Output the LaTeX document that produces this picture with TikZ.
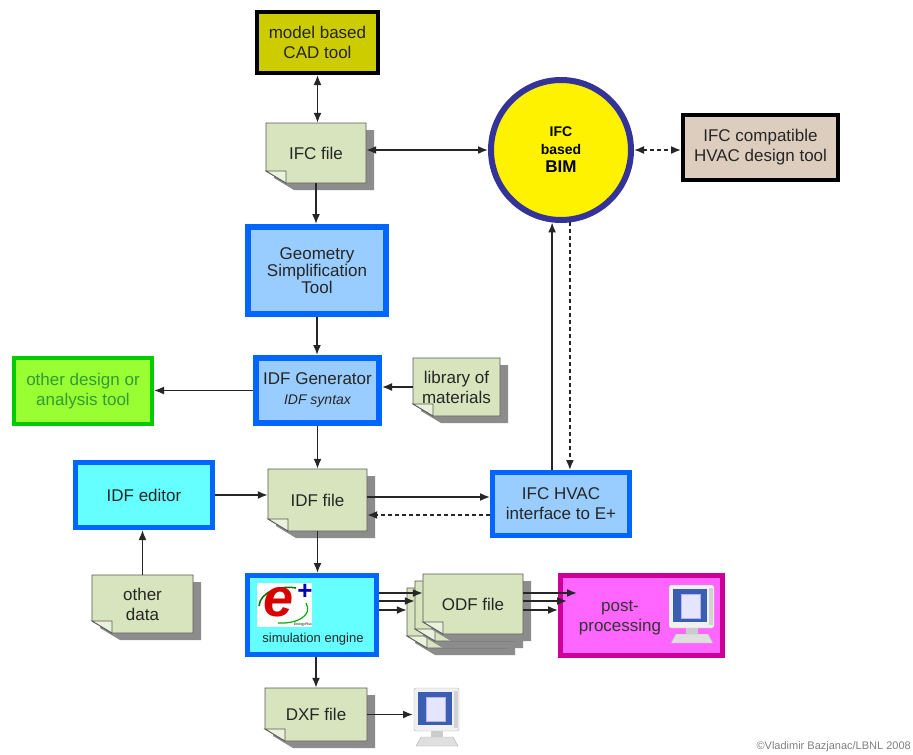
\documentclass[tikz,border=0pt]{standalone}
\usepackage{fontspec}
\setmainfont{Liberation Sans}
\usetikzlibrary{arrows.meta}

\definecolor{cadyellow}{HTML}{CCCC00}
\definecolor{notegreen}{HTML}{D7E4BD}
\definecolor{notefold}{HTML}{EAF1DD}
\definecolor{shadowgray}{HTML}{8C8C8C}
\definecolor{bimblue}{HTML}{333399}
\definecolor{hvactan}{HTML}{DDCDBF}
\definecolor{lightblue}{HTML}{99CCFF}
\definecolor{brightblue}{HTML}{0066FF}
\definecolor{limegreen}{HTML}{99FF33}
\definecolor{darkgreen}{HTML}{00CC00}
\definecolor{textgreen}{HTML}{339933}
\definecolor{cyanbox}{HTML}{66FFFF}
\definecolor{magentabox}{HTML}{FF66FF}
\definecolor{darkmagenta}{HTML}{CC0099}
\definecolor{screenblue}{HTML}{3A5FB0}

\begin{document}
\begin{tikzpicture}[
    x=1pt, y=-1pt,
    >={Latex[length=10pt,width=8pt]},
    % Estilo base de las cajas de herramientas
    ToolBox/.style={
        draw, rectangle, align=center, text=black!85,
        font=\fontsize{17}{20}\selectfont
    },
    % Cajas azules y cian
    BlueBox/.style={ToolBox, fill=lightblue, draw=brightblue, line width=6pt},
    CyanBox/.style={ToolBox, fill=cyanbox, draw=brightblue, line width=5pt},
    % Texto de las hojas (archivos)
    NoteText/.style={
        rectangle, inner sep=0pt, align=center, text=black!85,
        font=\fontsize{17}{20}\selectfont
    },
    % Conectores
    Link/.style={line width=1.6pt, draw=black!85},
    DashLink/.style={Link, dash pattern=on 4pt off 3pt}
]

    % Fondo y margenes
    \path[use as bounding box, fill=white] (0,0) rectangle (913,755);

    % --- 1. HERRAMIENTAS (CAJAS) ---
    \node[ToolBox, fill=cadyellow, line width=4pt, minimum width=121pt, minimum height=61pt]
        (CadTool) at (317.5,42.5) {model based\\CAD tool};
    \node[ToolBox, fill=hvactan, line width=4pt, minimum width=155pt, minimum height=65pt]
        (HvacTool) at (760.5,147.5) {IFC compatible\\HVAC design tool};
    \node[circle, fill=yellow, draw=bimblue, line width=6pt, minimum size=140pt,
          align=center, font=\bfseries\fontsize{14}{18}\selectfont]
        (Bim) at (561,150) {IFC\\based\\{\fontsize{17}{18}\selectfont BIM}};
    \node[BlueBox, minimum width=138pt, minimum height=87pt, font=\fontsize{17}{17}\selectfont]
        (GeoTool) at (317,270.5) {Geometry\\Simplification\\Tool};
    \node[BlueBox, minimum width=123pt, minimum height=65pt]
        (IdfGen) at (317.5,390.5) {IDF Generator\\{\fontsize{14}{16}\selectfont\itshape IDF syntax}};
    \node[ToolBox, fill=limegreen, draw=darkgreen, line width=4pt, text=textgreen,
          minimum width=138pt, minimum height=66pt]
        (OtherTool) at (83,391) {other design or\\analysis tool};
    \node[CyanBox, minimum width=137pt, minimum height=65pt]
        (IdfEditor) at (144,495) {IDF editor};
    \node[BlueBox, line width=5pt, minimum width=137pt, minimum height=63pt]
        (HvacIface) at (561,504) {IFC HVAC\\interface to E+};
    \node[CyanBox, minimum width=129pt, minimum height=79pt] (SimEngine) at (312,615) {};
    \node[text=black!85, font=\fontsize{13}{15}\selectfont] (SimLabel) at (313,639) {simulation engine};
    \node[ToolBox, fill=magentabox, draw=darkmagenta, line width=5pt,
          minimum width=162pt, minimum height=80pt] (PostProc) at (641.5,615.5) {};
    \node[NoteText, text=black!80] (PostLabel) at (620,618) {post-\\processing};

    % Logo de EnergyPlus
    \fill[white] (257,583) rectangle (312,627);
    \draw[green!45!black, line width=1.5pt] (259,606) .. controls (260,592) and (280,585) .. (296,588);
    \draw[green!70!black, line width=1.2pt] (278,623) .. controls (298,624) and (313,615) .. (306,603);
    \node[text=red!85!black, font=\fontsize{54}{54}\bfseries\itshape, inner sep=0pt] (ELogo) at (279,602) {e};
    \node[text=blue!70!black, font=\fontsize{26}{26}\bfseries, inner sep=0pt] (PlusLogo) at (305,592) {+};
    \node[font=\fontsize{3.5}{4}\itshape, inner sep=0pt] (EpText) at (303,625) {EnergyPlus};

    % --- 2. ARCHIVOS (HOJAS CON ESQUINA DOBLADA) ---
    \foreach \nm/\nx/\ny/\nw/\nh/\txt in {
        IfcFile/266/123/100/60/{IFC file},
        Library/413/358/87/58/{library of\\materials},
        IdfFile/268/469/99/62/{IDF file},
        OtherData/92/575/101/58/{other\\data},
        OdfC/407/588/100/60/{},
        OdfB/415/581/100/60/{},
        OdfA/423/574/100/60/{ODF file},
        DxfFile/265/688/102/53/{DXF file}} {
        % sombra
        \fill[shadowgray] ({\nx+8},{\ny+7}) -- ++(\nw,0) -- ++(0,\nh) -- ++({20-\nw},0) -- ++(-20,-12) -- cycle;
        % hoja
        \filldraw[fill=notegreen, draw=gray!70!black, line width=0.8pt]
            (\nx,\ny) -- ++(\nw,0) -- ++(0,\nh) -- ++({20-\nw},0) -- ++(-20,-12) -- cycle;
        % esquina doblada
        \filldraw[fill=notefold, draw=gray!70!black, line width=0.8pt]
            (\nx,{\ny+\nh-12}) -- ++(20,0) -- ++(0,12) -- cycle;
        \node[NoteText, minimum width=\nw pt, minimum height=\nh pt] (\nm) at ({\nx+\nw/2},{\ny+\nh/2}) {\txt};
    }

    % --- 3. MONITORES ---
    \foreach \mx/\my/\nm in {668/585/PostMonitor, 413/688/DxfMonitor} {
        \begin{scope}[shift={(\mx,\my)}]
            \filldraw[fill=gray!25, draw=gray!60] (8,49) -- (40,49) -- (45,58) -- (3,58) -- cycle;
            \fill[gray!40] (18,42) rectangle (30,49);
            \filldraw[fill=gray!12, draw=gray!60, rounded corners=2pt] (1,0) rectangle (46,43);
            \fill[gray!35] (41,3) rectangle (45,40);
            \fill[screenblue] (5,4) rectangle (39,37);
            \filldraw[fill=blue!10, draw=blue!30] (13,9) rectangle (32,33);
            \coordinate (\nm) at (0,22);
        \end{scope}
    }

    % --- 4. CONEXIONES ---
    \draw[Link, <->] (CadTool.south) -- (CadTool.south |- IfcFile.north);
    \draw[Link, <->] (IfcFile.east |- Bim) -- (Bim.west);
    \draw[DashLink, <->] (Bim.east) -- (Bim.east -| HvacTool.west);
    \draw[Link, ->] (IfcFile.south) -- (IfcFile.south |- GeoTool.north);
    \draw[Link, ->] (GeoTool.south) -- (GeoTool.south |- IdfGen.north);
    \draw[Link, ->] (Library.west) -- (Library.west -| IdfGen.east);
    \draw[Link, ->] (IdfGen.west) -- (IdfGen.west -| OtherTool.east);
    \draw[Link, ->] (IdfGen.south) -- (IdfGen.south |- IdfFile.north);
    \draw[Link, ->] (IdfEditor.east) -- (IdfEditor.east -| IdfFile.west);
    \draw[Link, ->] (OtherData.north) -- (OtherData.north |- IdfEditor.south);

    % Interfaz HVAC <-> IDF y BIM
    \coordinate (IfaceIn) at ([yshift=7pt]HvacIface.west);
    \coordinate (IfaceOut) at ([yshift=-11pt]HvacIface.west);
    \draw[Link, ->] (IfaceIn -| IdfFile.east) -- (IfaceIn);
    \draw[DashLink, ->] (IfaceOut) -- (IfaceOut -| IdfFile.east);
    \draw[Link, ->] (Bim.263 |- HvacIface.north) -- (Bim.263);
    \draw[DashLink, ->] (Bim.277) -- (Bim.277 |- HvacIface.north);

    % Motor de simulacion y resultados
    \draw[Link, ->] (IdfFile.south) -- (IdfFile.south |- SimEngine.north);
    \foreach \s/\nm/\e in {22/OdfA/19, 14/OdfB/9, 5/OdfC/0} {
        \coordinate (Out) at ([yshift=\s pt]SimEngine.east);
        \coordinate (In) at ([xshift=\e pt]PostProc.west);
        \draw[Link, ->] (Out) -- (Out -| \nm.west);
        \draw[Link, ->] (Out -| OdfA.east) -- (Out -| In);
    }
    \draw[Link, ->] (DxfFile.north |- SimEngine.south) -- (DxfFile.north);
    \draw[Link, ->] (DxfFile.east) -- (DxfFile.east -| DxfMonitor);

    % Credito
    \node[anchor=south east, font=\fontsize{11}{12}\selectfont, text=gray, inner sep=1pt]
        (Credit) at (912,753) {©Vladimir Bazjanac/LBNL 2008};

\end{tikzpicture}
\end{document}
